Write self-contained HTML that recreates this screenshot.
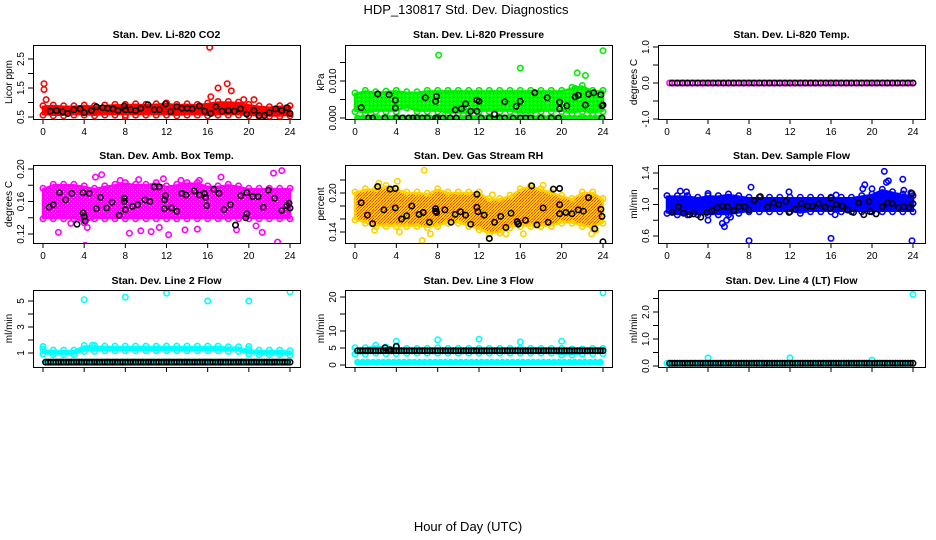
<!DOCTYPE html>
<html><head><meta charset="utf-8"><style>
body{margin:0;background:#fff;width:936px;height:540px;overflow:hidden}
svg{display:block;font-family:"Liberation Sans",sans-serif}
</style></head><body>
<svg id="chart" width="936" height="540" viewBox="0 0 936 540">
<defs>
<pattern id="pat-green" width="4" height="4" patternUnits="userSpaceOnUse"><rect width="4" height="4" fill="#00ff00"/><rect x="1" y="1" width="1" height="1" fill="#008800"/><rect x="3" y="3" width="1" height="1" fill="#ffffff"/></pattern>
<pattern id="pat-rh" width="3" height="3" patternUnits="userSpaceOnUse"><rect width="3" height="3" fill="#ffd000"/><rect width="1" height="1" fill="#ff3000"/><rect x="2" y="1" width="1" height="1" fill="#ff6000"/><rect x="1" y="2" width="1" height="1" fill="#ff3000"/></pattern>
<pattern id="pat-mag" width="4" height="4" patternUnits="userSpaceOnUse"><rect width="4" height="4" fill="#ff00ff"/><rect x="1" y="1" width="1" height="1" fill="#ffb0ff"/><rect x="3" y="3" width="1" height="1" fill="#ffb0ff"/></pattern>
</defs>
<text x="466" y="14" font-size="13" text-anchor="middle">HDP_130817  Std. Dev. Diagnostics</text>
<text x="468" y="531" font-size="13" text-anchor="middle">Hour of Day (UTC)</text>
</svg>
<script>
const halfHours=[0.5,1,1.5,2,2.5,3,3.5,4,4.5,5,5.5,6,6.5,7,7.5,8,8.5,9,9.5,10,10.5,11,11.5,12,12.5,13,13.5,14,14.5,15,15.5,16,16.5,17,17.5,18,18.5,19,19.5,20,20.5,21,21.5,22,22.5,23,23.5,24];
const xTicks=[0,4,8,12,16,20,24];

// CO2
const co2Lo=[0.6,0.58,0.58,0.6,0.6,0.58,0.6,0.6,0.6,0.6,0.6,0.6,0.6,0.58,0.6,0.6,0.58,0.6,0.6,0.6,0.58,0.55,0.55,0.55,0.58];
const co2Hi=[0.85,0.88,0.85,0.85,0.88,0.85,0.88,0.9,0.9,0.92,0.9,0.92,0.95,0.9,0.92,0.9,0.95,1.0,1.0,0.98,0.9,0.85,0.82,0.85,0.85];
const co2OutX=[0.1,0.1,0.3,16.2,16.3,17,17.9,18.3,19.5,20.5,8];
const co2OutY=[1.45,1.65,1.1,2.9,1.2,1.5,1.65,1.4,1.1,1.1,0.5];
const co2BlackX=[0.7,1.3,1.9,2.4,3,3.6,4,4.7,5.2,5.8,6.3,6.8,7.3,7.9,8,8.5,9,9.5,10.2,10.8,11.3,11.9,12.4,13,13.5,14,14.5,15.2,15.7,16.3,16.8,17.4,18,18.6,19.2,19.8,20.5,21,21.5,22,22.6,23.2,23.7,24];
const co2BlackY=[0.7,0.72,0.68,0.62,0.75,0.78,0.65,0.72,0.85,0.82,0.8,0.78,0.72,0.88,0.75,0.75,0.72,0.8,0.92,0.75,0.75,0.95,0.68,0.85,0.8,0.8,0.78,0.88,0.7,0.62,0.85,0.7,0.72,0.7,0.78,0.6,0.72,0.55,0.55,0.65,0.78,0.72,0.82,0.62];
const co2YTicks=[0.5,1,1.5,2,2.5];
const co2YLabels=["0.5","","1.5","","2.5"];

// Pressure
const presLo=[0.002,0.0015,0.002,0.002,0.002,0.003,0.002,0.002,0.002,0.0015,0.0015,0.0015,0.002,0.002,0.002,0.002,0.0015,0.0015,0.002,0.002,0.002,0.0015,0.002,0.0015,0.002];
const presHi=[0.0065,0.0072,0.0068,0.007,0.0072,0.0068,0.0068,0.0072,0.0072,0.0072,0.0072,0.0072,0.0072,0.0072,0.0072,0.0072,0.0072,0.0072,0.0072,0.0072,0.0072,0.008,0.0085,0.0072,0.0072];
const presRowLevel=[0];
const presOutX=[8.1,16,21.5,22.3,24,21.3];
const presOutY=[0.017,0.0135,0.0122,0.0115,0.0182,0.008];
const presBlackX=[1.3,1.7,2.9,4,4.6,5.2,5.6,6,6.5,7,7.8,8,8.5,9.2,9.8,11,12.2,13,14,14.5,15.3,16,16.5,17,18,19,19.7,23.9,0.6,2.2,3.3,3.9,3.9,6.8,7.8,7.9,9.7,10.3,10.7,11.2,11.8,12,11.8,13.5,14.5,15.6,16,17.4,18.6,19.8,19.8,20.5,21.3,21.6,22.3,22.6,23.1,23.8,23.9,24];
const presBlackY=[0,0,0,0,0,0,0,0,0,0,0,0,0,0,0,0,0,0,0,0,0,0,0,0,0,0,0,0,0.0028,0.0065,0.0063,0.0048,0.0027,0.0055,0.0045,0.0058,0.0022,0.0025,0.0038,0.0018,0.0048,0.0045,0.0018,0.001,0.0044,0.0032,0.0045,0.0068,0.0055,0.0043,0.0025,0.0033,0.0057,0.0062,0.0035,0.0065,0.0068,0.0063,0.0033,0.0035];
const presYTicks=[0,0.005,0.01,0.015];
const presYLabels=["0.000","","0.010",""];

// Temp
const tempRowLevel=[0];
const tempBlackRowLevel=[0];
const tempYTicks=[-1,-0.5,0,0.5,1];
const tempYLabels=["-1.0","","0.0","","1.0"];

// Amb box temp
const ambLo=[0.14,0.14,0.14,0.14,0.135,0.14,0.14,0.14,0.14,0.14,0.14,0.14,0.14,0.14,0.14,0.14,0.14,0.14,0.14,0.14,0.14,0.14,0.14,0.14,0.14];
const ambHi=[0.175,0.18,0.18,0.18,0.178,0.175,0.178,0.18,0.182,0.18,0.18,0.182,0.178,0.18,0.182,0.182,0.178,0.178,0.18,0.178,0.175,0.175,0.175,0.175,0.175];
const ambOutX=[1.5,1.8,2.7,4.1,4.3,5.1,5.7,7.5,8.3,8.4,9.3,9.5,10.5,11.3,11.7,12.2,13.4,13.8,15,15.2,17.3,18.8,20.7,21.3,22.4,22.8,23.2,23.6];
const ambOutY=[0.122,0.145,0.133,0.106,0.128,0.19,0.193,0.186,0.145,0.121,0.187,0.124,0.123,0.128,0.188,0.119,0.186,0.125,0.126,0.186,0.19,0.125,0.13,0.122,0.195,0.11,0.198,0.145];
const ambBlackX=[0.6,1,1.6,2.2,2.8,3.3,3.9,3.9,4,4.1,4.5,5.2,5.6,6.2,6.7,7.4,7.9,7.9,8,8.7,9.2,9.9,10.4,10.8,11.3,11.8,11.8,11.9,12.5,13,13.5,13.9,14.7,15.2,15.7,15.8,15.9,16.6,17.1,17.6,18.2,18.7,19.2,19.7,19.8,19.8,20.4,20.9,21.4,21.9,22.5,23.2,23.7,23.9,24];
const ambBlackY=[0.153,0.156,0.171,0.162,0.17,0.132,0.171,0.146,0.142,0.136,0.17,0.151,0.165,0.152,0.159,0.143,0.164,0.16,0.15,0.154,0.156,0.162,0.16,0.178,0.178,0.162,0.151,0.167,0.152,0.148,0.17,0.168,0.173,0.168,0.17,0.165,0.155,0.175,0.17,0.15,0.156,0.131,0.167,0.14,0.145,0.171,0.166,0.166,0.153,0.174,0.164,0.149,0.155,0.158,0.152];
const ambYTicks=[0.12,0.14,0.16,0.18,0.2];
const ambYLabels=["0.12","","0.16","","0.20"];

// RH
const rhLo=[0.16,0.155,0.15,0.15,0.15,0.15,0.15,0.148,0.15,0.155,0.155,0.15,0.145,0.138,0.14,0.148,0.15,0.15,0.15,0.15,0.155,0.155,0.15,0.148,0.155];
const rhHi=[0.2,0.205,0.205,0.21,0.205,0.2,0.2,0.198,0.205,0.2,0.2,0.2,0.2,0.19,0.19,0.195,0.205,0.21,0.205,0.2,0.195,0.19,0.2,0.2,0.19];
const rhOutX=[2.3,4.1,6.7,6.5,4.3,1.9,7.3,13.3,14.6,16.3,18.2,22.9,23.3,13];
const rhOutY=[0.215,0.218,0.235,0.127,0.14,0.143,0.137,0.197,0.137,0.137,0.212,0.137,0.143,0.13];
const rhBlackX=[0.6,1.2,1.7,2.2,2.8,3.4,3.9,3.9,4.5,5.0,5.5,6.2,6.6,7.2,7.8,7.8,7.9,8.7,9.3,9.7,10.2,10.7,11.2,11.8,11.8,11.9,12.5,13,13.5,14.1,14.6,15.1,15.7,15.8,15.8,16.5,17.1,17.6,18.2,18.7,19.2,19.8,19.8,19.8,20.4,21,21.6,22.1,22.6,23.2,23.8,23.9,24];
const rhBlackY=[0.185,0.166,0.153,0.21,0.174,0.206,0.207,0.177,0.16,0.165,0.18,0.167,0.17,0.155,0.176,0.172,0.17,0.174,0.155,0.167,0.171,0.166,0.152,0.198,0.178,0.171,0.166,0.13,0.155,0.164,0.147,0.169,0.156,0.153,0.152,0.158,0.211,0.151,0.177,0.155,0.206,0.207,0.182,0.168,0.17,0.168,0.174,0.172,0.193,0.145,0.175,0.164,0.125];
const rhYTicks=[0.14,0.16,0.18,0.2,0.22];
const rhYLabels=["0.14","","","0.20",""];

// Sample flow
const sfLo=[0.9,0.88,0.88,0.88,0.88,0.88,0.88,0.9,0.92,0.92,0.92,0.92,0.92,0.9,0.92,0.92,0.92,0.92,0.92,0.92,0.92,0.92,0.92,0.92,0.92];
const sfHi=[1.1,1.1,1.1,1.08,1.1,1.1,1.12,1.1,1.08,1.08,1.08,1.08,1.08,1.08,1.08,1.08,1.08,1.08,1.08,1.1,1.12,1.18,1.15,1.12,1.1];
const sfOutX=[1.3,1.9,4,4,5.4,5.6,5.8,6.2,8,8.2,11.9,16,16.4,16.5,19.3,19.1,20,21.2,21.4,21.6,23,23.1,23.9,23.8];
const sfOutY=[1.17,1.16,1.14,0.8,0.76,0.72,0.8,0.84,0.54,1.22,1.16,0.57,0.87,1.12,1.25,1.2,1.2,1.42,1.28,1.3,1.32,1.18,0.54,1.15];
const sfBlackX=[0.5,1.1,1.6,2.2,2.6,3.3,3.9,4.4,4.9,5.4,5.9,6.5,7,7.6,8,8.5,9.1,9.8,10.4,10.9,11.6,11.9,12.5,13.1,13.7,14.2,14.8,15.4,15.9,16,16.5,17.1,17.6,18.2,18.7,19.2,19.7,19.8,20.4,21,21.5,22,22.6,23.1,23.6,23.9,24];
const sfBlackY=[0.9,0.97,0.89,0.87,0.88,0.84,0.9,0.92,0.96,0.98,0.97,0.92,0.97,0.97,0.93,1.05,1.1,0.97,1.02,1.0,1.04,0.9,0.94,1.01,0.98,0.98,1.01,0.97,0.95,1.08,1.0,0.98,0.93,0.9,1.02,0.87,1.04,0.91,0.88,0.97,1.02,1.01,0.96,0.97,0.96,1.14,1.01];
const sfYTicks=[0.6,0.8,1.0,1.2,1.4];
const sfYLabels=["0.6","","1.0","","1.4"];

// Line 2
const l2Lo=[1.0,0.95,0.95,0.95,1.2,1.2,1.25,1.25,1.25,1.25,1.25,1.25,1.25,1.25,1.25,1.25,1.25,1.25,1.2,1.2,1.0,0.95,0.95,0.95,0.9];
const l2Hi=[1.2,1.15,1.15,1.15,1.5,1.5,1.45,1.45,1.45,1.45,1.45,1.45,1.45,1.45,1.45,1.45,1.45,1.45,1.4,1.4,1.2,1.15,1.15,1.15,1.1];
const l2RowLevel=[0.3];
const l2BlackRowLevel=[0.3];
const l2OutX=[0,4,8,12,16,20,24,20,4.8];
const l2OutY=[1.5,5.1,5.3,5.6,5.0,5.0,5.7,1.5,1.6];
const l2YTicks=[1,2,3,4,5];
const l2YLabels=["1","","3","","5"];

// Line 3
const l3Lo=[3.5,3.5,3.8,3.6,3.6,3.7,3.8,3.8,3.8,3.8,3.8,3.8,3.8,3.8,3.8,3.8,3.8,3.8,3.8,3.8,3.2,3.2,3.5,3.6,3.6];
const l3Hi=[4.8,4.8,5.5,5.0,5.0,4.6,4.6,4.6,4.8,4.6,4.6,4.6,4.6,4.6,4.6,4.6,4.6,4.6,4.6,4.6,4.6,4.4,4.4,4.6,4.6];
const l3RowLevel=[0.8];
const l3BlackRowLevel=[4.2];
const l3OutX=[4,8,12,16,20,24];
const l3OutY=[7,7.4,7.6,6.8,7,21.2];
const l3BlackX=[2.9,3.4,4];
const l3BlackY=[5.1,4.5,5.5];
const l3YTicks=[0,5,10,15,20];
const l3YLabels=["0","5","10","","20"];

// Line 4
const l4RowLevel=[0.1];
const l4BlackRowLevel=[0.1];
const l4OutX=[0,4,12,20,24];
const l4OutY=[0.1,0.3,0.3,0.22,2.65];
const l4YTicks=[0,0.5,1,1.5,2,2.5];
const l4YLabels=["0.0","","1.0","","2.0",""];

const NS="http://www.w3.org/2000/svg";
const svg=document.getElementById('chart');
function el(tag,attrs,parent){const e=document.createElementNS(NS,tag);for(const k in attrs)e.setAttribute(k,attrs[k]);(parent||svg).appendChild(e);return e;}

const cols=[{l:33,r:300,x0:43,x24:290},{l:345,r:612,x0:355,x24:603},{l:658,r:925,x0:667,x24:913}];
const rows=[{t:45,b:119,ty:38},{t:165,b:243,ty:159},{t:290,b:367,ty:284}];

const panels=[
 {key:'co2',c:0,r:0,title:'Stan. Dev. Li-820 CO2',yt:'Licor ppm',ya:[0.5,117],yb:[2.5,59],color:'#ff0000',fill:'#ff0000',lo:co2Lo,hi:co2Hi,ox:co2OutX,oy:co2OutY,bx:co2BlackX,by:co2BlackY,ticks:co2YTicks,labels:co2YLabels,xl:true},
 {key:'pressure',c:1,r:0,title:'Stan. Dev. Li-820 Pressure',yt:'kPa',ya:[0,118],yb:[0.01,81],color:'#00ee00',fill:'url(#pat-green)',lo:presLo,hi:presHi,row:presRowLevel,ox:presOutX,oy:presOutY,bx:presBlackX,by:presBlackY,ticks:presYTicks,labels:presYLabels,xl:true},
 {key:'temp',c:2,r:0,title:'Stan. Dev. Li-820 Temp.',yt:'degrees C',ya:[0,83],yb:[1,47],color:'#ff00ff',row:tempRowLevel,brow:tempBlackRowLevel,sparse:true,ticks:tempYTicks,labels:tempYLabels,xl:true},
 {key:'ambtemp',c:0,r:1,title:'Stan. Dev. Amb. Box Temp.',yt:'degrees C',ya:[0.12,234],yb:[0.2,169],color:'#ff00ff',fill:'url(#pat-mag)',lo:ambLo,hi:ambHi,ox:ambOutX,oy:ambOutY,bx:ambBlackX,by:ambBlackY,ticks:ambYTicks,labels:ambYLabels,xl:true},
 {key:'rh',c:1,r:1,title:'Stan. Dev. Gas Stream RH',yt:'percent',ya:[0.14,232],yb:[0.2,193],color:'#ffd000',fill:'url(#pat-rh)',lo:rhLo,hi:rhHi,ox:rhOutX,oy:rhOutY,bx:rhBlackX,by:rhBlackY,ticks:rhYTicks,labels:rhYLabels,xl:true},
 {key:'sampleflow',c:2,r:1,title:'Stan. Dev. Sample Flow',yt:'ml/min',ya:[0.6,236],yb:[1.4,173],color:'#0000ff',fill:'#0000ff',lo:sfLo,hi:sfHi,ox:sfOutX,oy:sfOutY,bx:sfBlackX,by:sfBlackY,ticks:sfYTicks,labels:sfYLabels,xl:true},
 {key:'line2',c:0,r:2,title:'Stan. Dev. Line 2 Flow',yt:'ml/min',ya:[1,353],yb:[5,301],color:'#00ffff',fill:'#00ffff',lo:l2Lo,hi:l2Hi,row:l2RowLevel,brow:l2BlackRowLevel,ox:l2OutX,oy:l2OutY,ticks:l2YTicks,labels:l2YLabels,xl:false},
 {key:'line3',c:1,r:2,title:'Stan. Dev. Line 3 Flow',yt:'ml/min',ya:[0,365],yb:[20,297],color:'#00ffff',fill:'#00ffff',lo:l3Lo,hi:l3Hi,row:l3RowLevel,brow:l3BlackRowLevel,ox:l3OutX,oy:l3OutY,bx:l3BlackX,by:l3BlackY,ticks:l3YTicks,labels:l3YLabels,xl:false},
 {key:'line4',c:2,r:2,title:'Stan. Dev. Line 4 (LT) Flow',yt:'ml/min',ya:[0,366],yb:[2,312],color:'#00ffff',row:l4RowLevel,brow:l4BlackRowLevel,ox:l4OutX,oy:l4OutY,ticks:l4YTicks,labels:l4YLabels,xl:false}
];

function dot(g,x,y,color,name){
  const c=el('circle',{cx:x.toFixed(1),cy:y.toFixed(1),r:2.7,fill:'none',stroke:color,'stroke-width':1.6},g);
  
  
}

panels.forEach(p=>{
  const C=cols[p.c],R=rows[p.r];
  const xs=h=>C.x0+(C.x24-C.x0)*h/24;
  const ys=v=>p.ya[1]+(p.yb[1]-p.ya[1])*(v-p.ya[0])/(p.yb[0]-p.ya[0]);
  const g=el('g',{});
  
  
  const cid='clip-'+p.key;
  const cp=el('clipPath',{id:cid},g);
  el('rect',{x:C.l,y:R.t,width:C.r-C.l,height:R.b-R.t},cp);
  const plot=el('g',{'clip-path':'url(#'+cid+')'},g);
  
  
  if(p.lo){
    let pts=[];
    p.hi.forEach((v,i)=>pts.push(xs(i).toFixed(1)+','+ys(v).toFixed(1)));
    for(let i=p.lo.length-1;i>=0;i--)pts.push(xs(i).toFixed(1)+','+ys(p.lo[i]).toFixed(1));
    const band=el('polygon',{points:pts.join(' '),fill:p.fill,stroke:p.color,'stroke-width':2.5,'stroke-linejoin':'round'},plot);
    
    
    p.hi.forEach((v,i)=>dot(plot,xs(i),ys(v)-1,p.color,p.key+'-cloud-point'));
    p.lo.forEach((v,i)=>dot(plot,xs(i),ys(v)+1,p.color,p.key+'-cloud-point'));
  }
  if(p.row){
    const lv=p.row[0];
    if(!p.sparse){
      const rr=el('rect',{x:xs(0),y:ys(lv)-2.5,width:xs(24)-xs(0),height:5,fill:p.color},plot);
      
      
    }
    halfHours.forEach(h=>dot(plot,xs(h-0.25),ys(lv),p.color,p.key+'-row-point'));
  }
  if(p.ox){p.ox.forEach((h,i)=>{if(i<p.oy.length)dot(plot,xs(h),ys(p.oy[i]),p.color,p.key+'-outlier-point');});}
  if(p.brow){const lv=p.brow[0];halfHours.forEach(h=>{if(!p.sparse)dot(plot,xs(h-0.25),ys(lv),'#000',p.key+'-mean-point');dot(plot,xs(h),ys(lv),'#000',p.key+'-mean-point');});}
  if(p.bx){p.bx.forEach((h,i)=>{if(i<p.by.length)dot(plot,xs(h),ys(p.by[i]),'#000',p.key+'-mean-point');});}
  const box=el('rect',{x:C.l+0.5,y:R.t+0.5,width:C.r-C.l,height:R.b-R.t,fill:'none',stroke:'#000','stroke-width':1},g);
  
  
  xTicks.forEach(h=>{
    const t=el('line',{x1:xs(h),x2:xs(h),y1:R.b,y2:R.b+5,stroke:'#000'},g);
    
    
    if(p.xl){
      const tx=el('text',{x:xs(h),y:R.b+16,'font-size':10,'text-anchor':'middle'},g);
      tx.textContent=String(h);
      
      
    }
  });
  p.ticks.forEach((v,i)=>{
    const y=ys(v);
    const t=el('line',{x1:C.l-5,x2:C.l,y1:y,y2:y,stroke:'#000'},g);
    
    
    if(p.labels[i]){
      const tx=el('text',{x:0,y:0,'font-size':10,'text-anchor':'middle',transform:'translate('+(C.l-9)+','+y+') rotate(-90)'},g);
      tx.textContent=p.labels[i];
      
      
    }
  });
  const yt=el('text',{x:0,y:0,'font-size':10,'text-anchor':'middle',transform:'translate('+(C.l-21)+','+((R.t+R.b)/2)+') rotate(-90)'},g);
  yt.textContent=p.yt;
  
  
  const tt=el('text',{x:(C.l+C.r)/2,y:R.ty,'font-size':10.5,'font-weight':'bold','text-anchor':'middle'},g);
  tt.textContent=p.title;
  
  
});
</script>
</body></html>
